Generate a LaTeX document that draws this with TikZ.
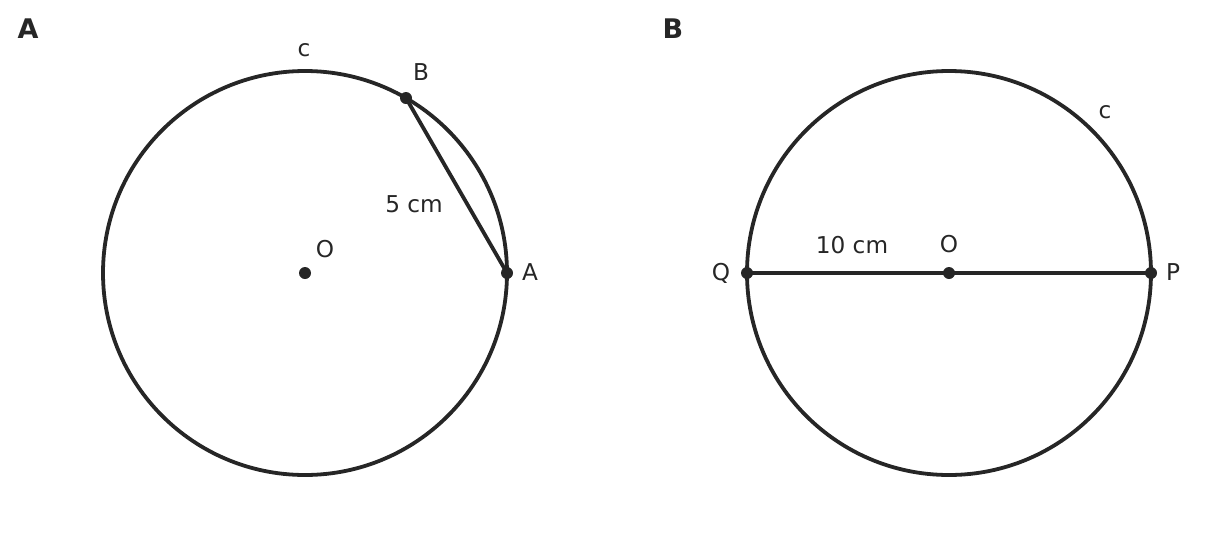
\documentclass[tikz,border=0pt]{standalone}
\usepackage{fontspec}
\setmainfont{DejaVu Sans}
\usepackage{tikz}
\definecolor{ink}{HTML}{262626}
\tikzstyle{rim}=[draw=ink,line width=1.9pt]
\tikzstyle{seg}=[draw=ink,line width=1.9pt]
\tikzstyle{dot}=[circle,fill=ink,inner sep=0pt,minimum size=6pt]
\tikzstyle{lbl}=[anchor=base,text=ink,inner sep=0pt,font=\fontsize{11.6}{13}\selectfont]
\tikzstyle{tag}=[anchor=base,text=ink,inner sep=0pt,font=\fontsize{13.5}{15}\selectfont\bfseries]

\begin{document}
\begin{tikzpicture}[x=0.5pt,y=-0.5pt]
  \useasboundingbox (0,0) rectangle (1222,547);

  % panel A
  \node[tag] (tagA) at (28,38) {A};
  \coordinate (O1) at (305,273);
  \draw[rim] (O1) circle[radius=202];
  \node[dot] (B) at (406,98) {};
  \node[dot] (A) at (507,273) {};
  \draw[seg] (B.center)--(A.center);
  \node[dot] (cO1) at (O1) {};
  \node[lbl] (c1) at (304,56) {c};
  \node[lbl] (lB) at (421,80) {B};
  \node[lbl] (len1) at (414,212) {5 cm};
  \node[lbl] (lO1) at (325,257) {O};
  \node[lbl] (lA) at (530,280) {A};

  % panel B
  \node[tag] (tagB) at (673,38) {B};
  \coordinate (O2) at (949,273);
  \draw[rim] (O2) circle[radius=202];
  \node[dot] (Q) at (747,273) {};
  \node[dot] (P) at (1151,273) {};
  \draw[seg] (Q.center)--(P.center);
  \node[dot] (cO2) at (O2) {};
  \node[lbl] (c2) at (1105,118) {c};
  \node[lbl] (len2) at (852,253) {10 cm};
  \node[lbl] (lO2) at (949,252) {O};
  \node[lbl] (lQ) at (721,280) {Q};
  \node[lbl] (lP) at (1173,280) {P};

\end{tikzpicture}
\end{document}
